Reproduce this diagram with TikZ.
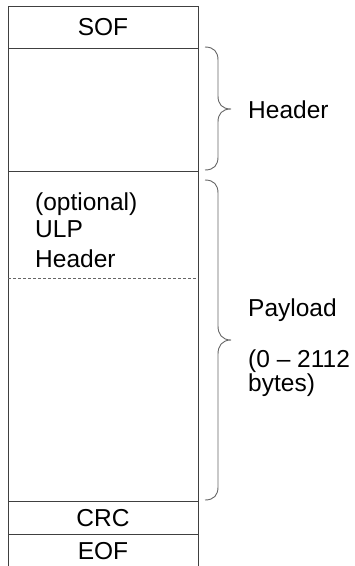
\documentclass[tikz,border=0pt]{standalone}
\usepackage{fontspec}
\setmainfont{Liberation Sans}
\tikzset{
  frameline/.style={draw=black!75, line width=1pt},
  dashsep/.style={draw=black!60, line width=0.8pt, dash pattern=on 3pt off 2pt},
  bracecurve/.style={draw=black!60, line width=0.9pt},
  celltext/.style={inner sep=0pt, font=\fontsize{24.5}{29}\selectfont},
  sidetext/.style={inner sep=0pt, anchor=base west, font=\fontsize{24.5}{29}\selectfont},
}
\begin{document}
\begin{tikzpicture}[x=1pt, y=-1pt]
  \useasboundingbox (0,0) rectangle (355,566);
  \clip (0,0) rectangle (355,566);

  % frame rows
  \coordinate (tl) at (8,6);
  \coordinate (br) at (198,568);
  \draw[frameline] (8,568) -- (tl) -- (198,6) -- (br);
  \draw[frameline] (8,48) -- (198,48);
  \draw[frameline] (8,171) -- (198,171);
  \draw[frameline] (8,501) -- (198,501);
  \draw[frameline] (8,534) -- (198,534);
  \draw[dashsep] (8,278) -- (198,278);

  % cell labels
  \node[celltext] (sof) at (103,27) {SOF};
  \node[celltext] (crc) at (103,518) {CRC};
  \node[celltext] (eof) at (103,551) {EOF};
  \node[sidetext] (opt) at (35,210) {(optional)};
  \node[sidetext] (ulp) at (35,237) {ULP};
  \node[sidetext] (ulph) at (35,267) {Header};

  % braces
  \draw[bracecurve] (205,47) .. controls (214,47) and (218,52) .. (218,60)
      -- (218,96) .. controls (218,104) and (222,109) .. (231,109)
      .. controls (222,109) and (218,114) .. (218,122)
      -- (218,157) .. controls (218,165) and (214,170) .. (205,170);
  \draw[bracecurve] (205,180) .. controls (214,180) and (218,185) .. (218,193)
      -- (218,326) .. controls (218,334) and (222,340) .. (231,340)
      .. controls (222,340) and (218,346) .. (218,354)
      -- (218,487) .. controls (218,495) and (214,500) .. (205,500);

  % side labels
  \node[sidetext] (hdr) at (248,118) {Header};
  \node[sidetext] (pay) at (248,316) {Payload};
  \node[sidetext] (rng) at (248,367) {(0 – 2112};
  \node[sidetext] (byt) at (248,391) {bytes)};
\end{tikzpicture}
\end{document}
